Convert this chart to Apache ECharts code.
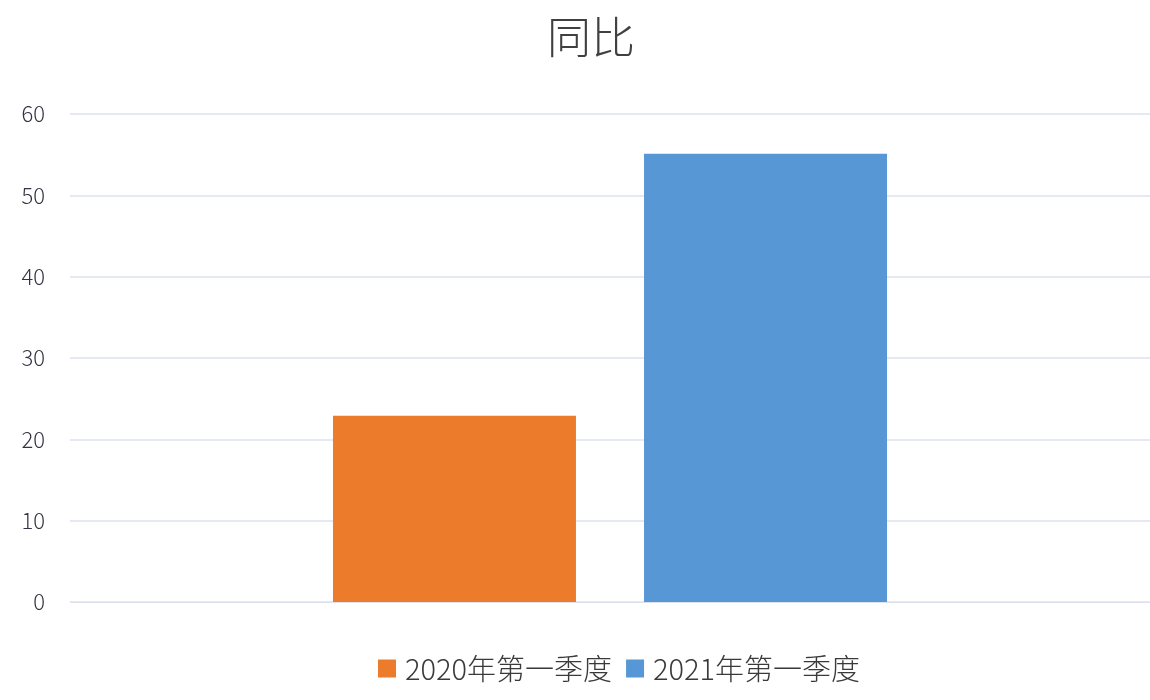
<!DOCTYPE html>
<html>
<head>
<meta charset="utf-8">
<script src="https://cdn.jsdelivr.net/npm/echarts@6/dist/echarts.min.js"></script>
<style>
html,body{margin:0;padding:0;background:#fff;}
#chart{width:1150px;height:700px;}
</style>
</head>
<body>
<div id="chart"></div>
<script>
const categories = ['同比'];
const seriesNames = ['2020年第一季度', '2021年第一季度'];
const values2020 = [22.9];
const values2021 = [55.1];
const yTicks = [0, 10, 20, 30, 40, 50, 60];

const chart = echarts.init(document.getElementById('chart'));
const font = '"Noto Sans CJK SC", "Noto Sans", sans-serif';
chart.setOption({
  backgroundColor: '#ffffff',
  animation: false,
  title: {
    text: '同比',
    left: 542,
    top: 10,
    textStyle: { fontFamily: font, fontSize: 44, fontWeight: 300, color: '#404040' }
  },
  legend: {
    bottom: 12,
    left: 373,
    itemWidth: 18,
    itemHeight: 18,
    itemGap: 14,
    icon: 'rect',
    textStyle: { fontFamily: font, fontSize: 29, fontWeight: 300, color: '#3a3a3a', padding: [0, 0, 0, 4] },
    data: seriesNames
  },
  grid: { left: 70, right: 0, top: 114, bottom: 98 },
  xAxis: {
    type: 'category',
    data: categories,
    axisLine: { show: true, lineStyle: { color: '#dde2ee' } },
    axisTick: { show: false },
    axisLabel: { show: false }
  },
  yAxis: {
    type: 'value',
    min: yTicks[0],
    max: yTicks[yTicks.length - 1],
    interval: 10,
    axisLine: { show: false },
    axisTick: { show: false },
    axisLabel: { margin: 25, fontFamily: font, fontSize: 22, fontWeight: 300, color: '#333344' },
    splitLine: { lineStyle: { color: '#dde2ee', width: 1.5 } }
  },
  series: [
    {
      name: seriesNames[0], type: 'bar', data: values2020,
      barWidth: 243, barGap: '28%',
      itemStyle: { color: '#ec7c2c' }
    },
    {
      name: seriesNames[1], type: 'bar', data: values2021,
      barWidth: 243,
      itemStyle: { color: '#5797d6' }
    }
  ]
});
</script>
</body>
</html>
